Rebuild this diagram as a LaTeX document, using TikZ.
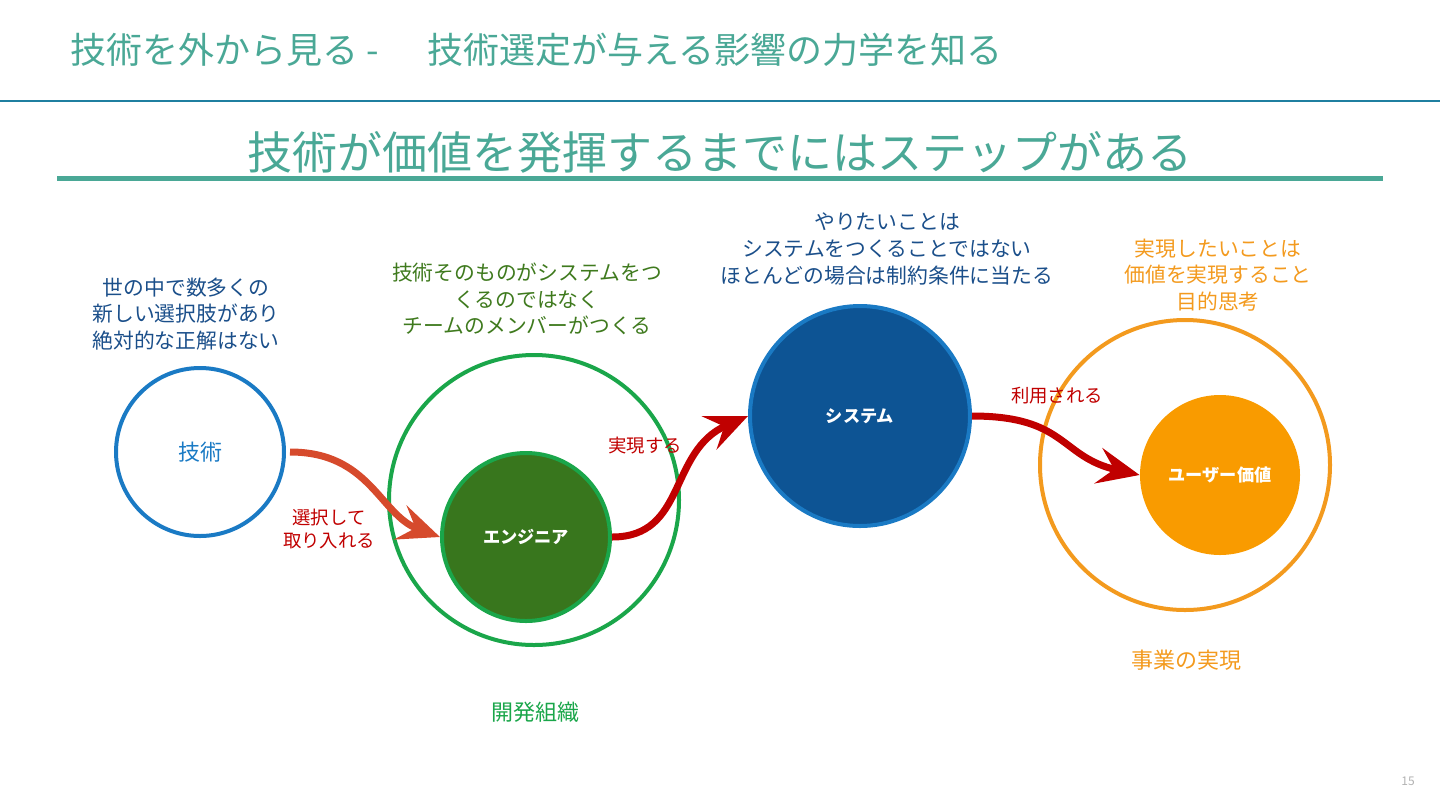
\documentclass[tikz,border=0pt]{standalone}
\usepackage{fontspec}
\setmainfont{Noto Sans CJK JP}
\usetikzlibrary{arrows.meta}
\definecolor{teal}{HTML}{4AA896}
\definecolor{hline}{HTML}{1F7FA0}
\definecolor{techblue}{HTML}{1A7AC4}
\definecolor{navy}{HTML}{1B4F8A}
\definecolor{sysfill}{HTML}{0D5494}
\definecolor{devgreen}{HTML}{1AA64A}
\definecolor{engfill}{HTML}{38761D}
\definecolor{olive}{HTML}{3F7A1E}
\definecolor{bizorange}{HTML}{F39A1E}
\definecolor{userfill}{HTML}{F99B00}
\definecolor{arrowred}{HTML}{C00000}
\definecolor{arroworange}{HTML}{D64A2C}
\tikzset{
  ring/.style={circle, draw, line width=2pt, inner sep=0pt},
  note/.style={align=center, font=\fontsize{10.4}{13.4}\selectfont},
  inlabel/.style={font=\fontsize{8.6}{10}\selectfont\bfseries, text=white},
  flow/.style={line width=3.5pt, -{Stealth[length=21pt,width=18pt,inset=8pt]}},
  edgelabel/.style={align=center, text=arrowred, font=\fontsize{9.2}{11.5}\selectfont},
}
\begin{document}
\begin{tikzpicture}[x=0.5pt,y=-0.5pt]
\useasboundingbox (0,0) rectangle (1440,810);
% header
\node[anchor=west, text=teal, font=\fontsize{18}{20}\selectfont] (title) at (63,50) {技術を外から見る -\hspace{1.35em}技術選定が与える影響の力学を知る};
\draw[hline, line width=1pt] (0,101) coordinate (hl) -- (1440,101) coordinate (hr);
\node[text=teal, font=\fontsize{22.5}{25}\selectfont] (sub) at (720,152) {技術が価値を発揮するまでにはステップがある};
\draw[teal, line width=2.5pt] (57,178) coordinate (sl) -- (1383,178) coordinate (sr);
% circles
\node[ring, draw=techblue, minimum size=168*0.5pt, text=techblue, font=\fontsize{11}{12}\selectfont] (tech) at (200,452) {技術};
\node[ring, draw=devgreen, minimum size=290*0.5pt] (dev) at (534,500) {};
\node[ring, draw=devgreen, fill=engfill, minimum size=168*0.5pt, inlabel] (eng) at (526,537) {エンジニア};
\node[ring, draw=techblue, fill=sysfill, minimum size=220*0.5pt, inlabel] (sys) at (860,416) {システム};
\node[ring, draw=bizorange, minimum size=290*0.5pt] (biz) at (1185,465) {};
\node[circle, fill=userfill, minimum size=160*0.5pt, inner sep=0pt, inlabel] (user) at (1220,475) {ユーザー価値};
% notes
\node[note, text=navy] (n1) at (186,314) {世の中で数多くの\\新しい選択肢があり\\絶対的な正解はない};
\node[note, text=olive] (n2) at (527,299) {技術そのものがシステムをつ\\くるのではなく\\チームのメンバーがつくる};
\node[note, text=navy] (n3) at (887,249) {やりたいことは\\システムをつくることではない\\ほとんどの場合は制約条件に当たる};
\node[note, text=bizorange] (n4) at (1218,275) {実現したいことは\\価値を実現すること\\目的思考};
\node[text=devgreen, font=\fontsize{11}{12}\selectfont] (devlab) at (535,712) {開発組織};
\node[text=bizorange, font=\fontsize{11}{12}\selectfont] (bizlab) at (1186,660) {事業の実現};
% arrows
\draw[flow, arroworange] (tech.east) ++(4,0) coordinate (a1s) .. controls +(80,0) and +(-60,-22) .. (eng.west);
\draw[flow, arrowred] (eng.east) .. controls +(75,0) and +(-80,35) .. (sys.west);
\draw[flow, arrowred] (sys.east) .. controls +(95,0) and +(-80,-18) .. (user.west);
\node[edgelabel] (l1) at (329,529) {選択して\\取り入れる};
\node[edgelabel] (l2) at (645,446) {実現する};
\node[edgelabel] (l3) at (1057,396) {利用される};
\node[text=black!30, font=\fontsize{6}{7}\selectfont] (pg) at (1408,781) {15};
\end{tikzpicture}
\end{document}
